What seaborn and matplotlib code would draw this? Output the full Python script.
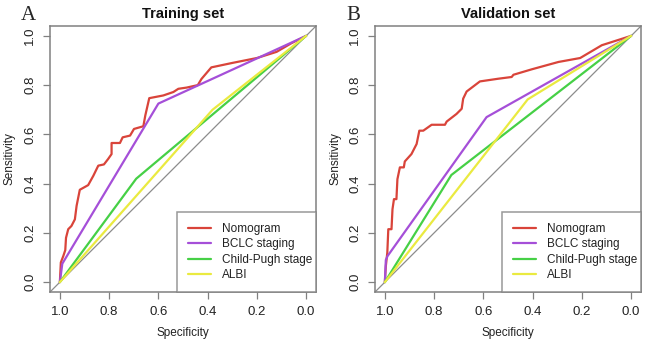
import pandas as pd
import matplotlib
matplotlib.use('Agg')
import matplotlib.pyplot as plt
import seaborn as sns

# --- Datos (especificidad, sensibilidad) ---

modelos = ['Nomogram', 'BCLC staging', 'Child-Pugh stage', 'ALBI']
colores = ['#d9443a', '#a54fd8', '#46d046', '#eaea40']

# Training set
train_nomo_spec = [1.0, 0.996, 0.986, 0.978, 0.975, 0.966, 0.953, 0.939, 0.932, 0.919,
                   0.885, 0.864, 0.844, 0.821, 0.804, 0.79, 0.79, 0.756, 0.745, 0.715,
                   0.699, 0.661, 0.653, 0.637, 0.58, 0.539, 0.519, 0.485, 0.44, 0.425,
                   0.385, 0.30, 0.20, 0.12, 0.06, 0.0]
train_nomo_sens = [0.0, 0.08, 0.106, 0.13, 0.18, 0.215, 0.228, 0.255, 0.31, 0.375,
                   0.394, 0.432, 0.473, 0.478, 0.5, 0.52, 0.565, 0.565, 0.588, 0.595,
                   0.622, 0.633, 0.677, 0.747, 0.758, 0.772, 0.785, 0.79, 0.80, 0.825,
                   0.872, 0.89, 0.91, 0.935, 0.97, 1.0]
train_bclc_spec = [1.0, 0.99, 0.6, 0.0]
train_bclc_sens = [0.0, 0.075, 0.725, 1.0]
train_cp_spec = [1.0, 0.69, 0.0]
train_cp_sens = [0.0, 0.42, 1.0]
train_albi_spec = [1.0, 0.38, 0.0]
train_albi_sens = [0.0, 0.70, 1.0]

# Validation set
val_nomo_spec = [1.0, 0.996, 0.99, 0.986, 0.973, 0.969, 0.963, 0.953, 0.949, 0.939,
                 0.923, 0.919, 0.892, 0.871, 0.86, 0.844, 0.81, 0.756, 0.749, 0.709,
                 0.688, 0.682, 0.668, 0.614, 0.539, 0.485, 0.478, 0.404, 0.295, 0.207,
                 0.119, 0.0]
val_nomo_sens = [0.0, 0.065, 0.12, 0.215, 0.215, 0.296, 0.337, 0.337, 0.418, 0.466,
                 0.466, 0.49, 0.52, 0.561, 0.615, 0.615, 0.639, 0.639, 0.652, 0.683,
                 0.704, 0.745, 0.774, 0.815, 0.826, 0.833, 0.842, 0.864, 0.894, 0.91,
                 0.962, 1.0]
val_bclc_spec = [1.0, 0.996, 0.989, 0.587, 0.0]
val_bclc_sens = [0.0, 0.09, 0.106, 0.67, 1.0]
val_cp_spec = [1.0, 0.73, 0.0]
val_cp_sens = [0.0, 0.435, 1.0]
val_albi_spec = [1.0, 0.42, 0.0]
val_albi_sens = [0.0, 0.742, 1.0]

ticks = [1.0, 0.8, 0.6, 0.4, 0.2, 0.0]
tick_labels = ['1.0', '0.8', '0.6', '0.4', '0.2', '0.0']


def armar_df(curvas):
    filas = []
    for nombre, (spec, sens) in zip(modelos, curvas):
        for i, (s, e) in enumerate(zip(spec, sens)):
            filas.append({'Modelo': nombre, 'orden': i, 'Specificity': s, 'Sensitivity': e})
    return pd.DataFrame(filas)


df_train = armar_df([(train_nomo_spec, train_nomo_sens), (train_bclc_spec, train_bclc_sens),
                     (train_cp_spec, train_cp_sens), (train_albi_spec, train_albi_sens)])
df_val = armar_df([(val_nomo_spec, val_nomo_sens), (val_bclc_spec, val_bclc_sens),
                   (val_cp_spec, val_cp_sens), (val_albi_spec, val_albi_sens)])

sns.set_style("white")
plt.rcParams['font.family'] = ['Liberation Sans', 'DejaVu Sans']

gris = '#808080'
fig = plt.figure(figsize=(6.45, 3.45), dpi=100)

paneles = [
    (df_train, 'Training set', 'A', 50),
    (df_val, 'Validation set', 'B', 375),
]

for df, titulo, letra, x0 in paneles:
    ax = fig.add_axes([x0 / 645, 53 / 345, 266 / 645, 266 / 345])
    ax.axline((1, 0), (0, 1), color='#8c8c8c', lw=0.9, zorder=1)
    sns.lineplot(data=df, x='Specificity', y='Sensitivity', hue='Modelo',
                 hue_order=modelos, palette=colores, sort=False, estimator=None,
                 units='Modelo', linewidth=1.6, ax=ax, zorder=2)
    ax.set_xlim(1.04, -0.04)
    ax.set_ylim(-0.04, 1.04)
    ax.set_xticks(ticks)
    ax.set_xticklabels(tick_labels)
    ax.set_yticks(ticks[::-1])
    ax.set_yticklabels(tick_labels[::-1], rotation=90, va='center')
    ax.tick_params(axis='both', length=5, width=0.9, color=gris, labelsize=9.5,
                   labelcolor='#222222', pad=5, direction='out')
    ax.tick_params(axis='x', bottom=True)
    ax.tick_params(axis='y', left=True)
    for sp in ax.spines.values():
        sp.set_color(gris)
        sp.set_linewidth(1.1)

    ax.set_xlabel('Specificity', fontsize=8.5, color='#222222')
    ax.set_ylabel('Sensitivity', fontsize=8.5, color='#222222')
    ax.xaxis.label.set_va('center')
    ax.yaxis.label.set_va('center')
    ax.xaxis.set_label_coords(0.5, (292 - 333) / 266)
    ax.yaxis.set_label_coords(-40 / 266, 0.5)

    ax.text(0.5, (292 - 14) / 266, titulo, transform=ax.transAxes, ha='center',
            va='center', fontsize=10.5, fontweight='bold', color='#111111')
    fig.text((x0 - 22) / 645, 1 - 15 / 345, letra, ha='center', va='center',
             fontsize=15, family=['Liberation Serif', 'DejaVu Serif'])

    leg = ax.legend(loc='lower left', bbox_to_anchor=(127 / 266, 0, 139 / 266, 84 / 266),
                    mode='expand', borderaxespad=0, fontsize=8.5, frameon=True,
                    fancybox=False, edgecolor=gris, handlelength=2.0,
                    handletextpad=0.9, labelspacing=0.3, borderpad=0.9, title=None)
    leg.get_frame().set_linewidth(1.1)
    for t in leg.get_texts():
        t.set_color('#222222')

fig.savefig('out.png', dpi=100)
